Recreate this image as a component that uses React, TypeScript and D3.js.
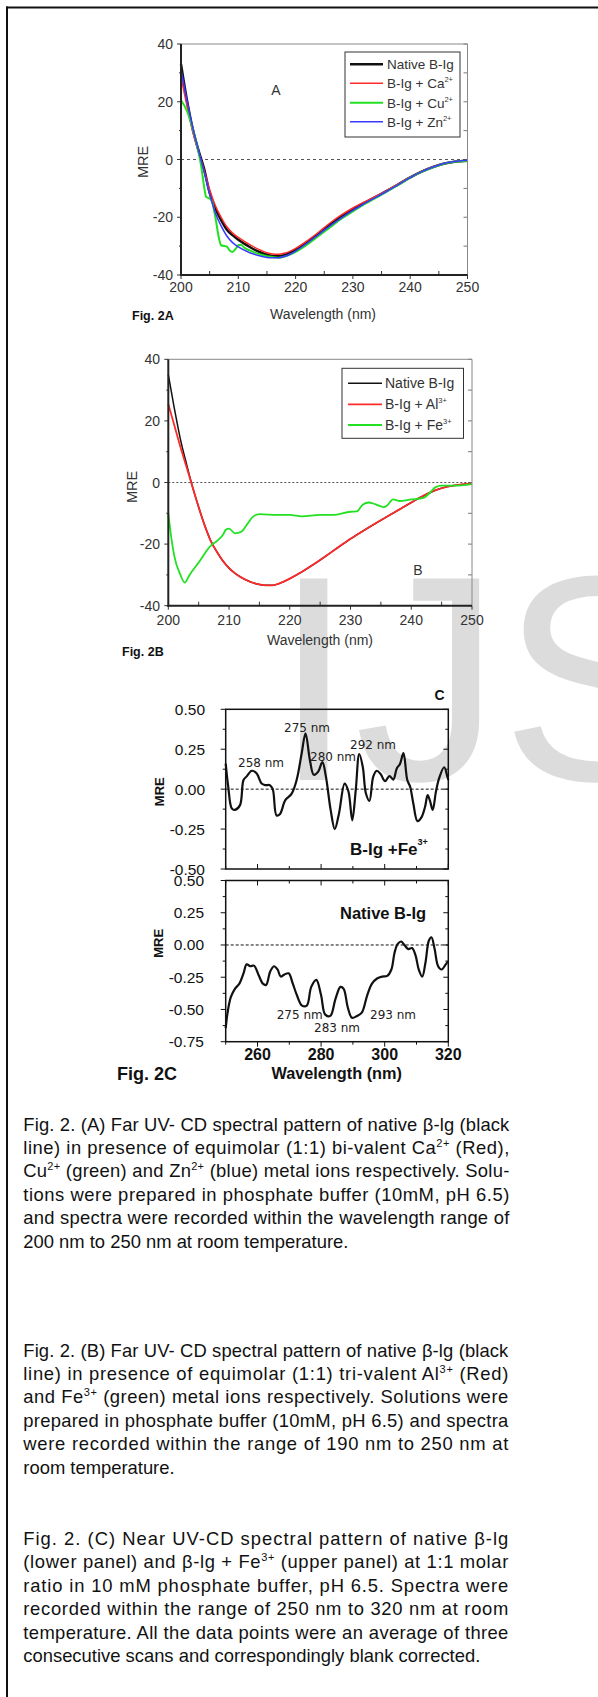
import React from "react";
import * as d3 from "d3";

const W = 598;
const H = 1697;

// ---- Fig 2A : far UV CD, divalent ions  [wavelength, MRE]
const nativeA = [[200,33],[201,21],[202,11],[203,3.5],[204,-3],[205,-11.5],[206,-17],[207,-21],[208,-24.3],[209,-26.2],[210,-27.8],[212,-30.3],[214,-32.3],[215,-33],[216,-33.4],[217,-33.5],[218,-33.1],[219,-32.3],[220,-31.2],[222,-28.7],[224,-25.8],[226,-22.6],[228,-19.7],[230,-17.2],[232,-15],[234,-12.9],[236,-10.8],[238,-8.5],[240,-6.2],[242,-4.2],[244,-2.6],[246,-1.4],[248,-0.7],[250,-0.4]];
const caA = [[200,28.5],[201,19],[202,10],[203,3],[204,-3.5],[205,-10.5],[206,-16],[207,-20],[208,-23.3],[209,-25.5],[210,-27],[212,-29.5],[214,-31.5],[215,-32.3],[216,-32.7],[217,-32.8],[218,-32.5],[219,-31.8],[220,-30.8],[222,-28.2],[224,-25.2],[226,-22],[228,-19.2],[230,-16.8],[232,-14.7],[234,-12.7],[236,-10.6],[238,-8.4],[240,-6.1],[242,-4.1],[244,-2.5],[246,-1.3],[248,-0.6],[250,-0.3]];
const cuA = [[200,20.5],[201,17],[202,11],[203,3],[203.5,-2],[204,-9],[204.4,-13],[205,-13.5],[205.4,-14.5],[206,-20],[206.6,-27],[207,-29.7],[208,-30.2],[208.5,-31.5],[209,-32],[209.5,-31],[210,-29.7],[210.5,-29.5],[211,-30.5],[212,-31.5],[214,-33],[216,-33.8],[217,-34],[218,-33.7],[220,-32],[222,-29.5],[224,-26.5],[226,-23.5],[228,-20.5],[230,-18],[232,-15.5],[234,-13.3],[236,-11],[238,-8.7],[240,-6.3],[242,-4.3],[244,-2.7],[246,-1.4],[248,-0.7],[250,-0.4]];
const znA = [[200,31],[201,21],[202,11.5],[203,3.5],[204,-4],[205,-12],[206,-18.5],[207,-23],[208,-26.5],[209,-28.8],[210,-30.3],[212,-32.3],[214,-33.5],[215,-33.9],[216,-34],[217,-34],[218,-33.6],[219,-32.8],[220,-31.7],[222,-29],[224,-26],[226,-23],[228,-20.2],[230,-17.6],[232,-15.3],[234,-13.1],[236,-10.9],[238,-8.6],[240,-6.3],[242,-4.2],[244,-2.6],[246,-1.3],[248,-0.6],[250,-0.3]];
const legendA = ["Native B-Ig", "B-Ig + Ca^{2+}", "B-Ig + Cu^{2+}", "B-Ig + Zn^{2+}"];

// ---- Fig 2B : far UV CD, trivalent ions
const nativeB = [[200,35],[201,24],[202,14],[203,6],[204,-1.5],[205,-8],[206,-14],[207,-19],[208,-22.5],[209,-25.5],[210,-27.8],[211,-29.5],[212,-30.8],[213,-31.8],[214,-32.6],[215,-33.1],[216,-33.4],[217,-33.4],[218,-33],[219,-32.2],[220,-31.2],[222,-29],[224,-26.5],[226,-23.8],[228,-21],[230,-18.3],[232,-15.8],[234,-13.4],[236,-11.1],[238,-8.8],[240,-6.5],[242,-4.3],[244,-2.5],[246,-1.3],[248,-0.7],[250,-0.4]];
const alB = [[200,25.5],[201,18.5],[202,11.5],[203,5],[204,-1.5],[205,-8],[206,-14],[207,-19],[208,-22.5],[209,-25.5],[210,-27.8],[211,-29.5],[212,-30.8],[213,-31.8],[214,-32.6],[215,-33.1],[216,-33.4],[217,-33.4],[218,-33],[219,-32.2],[220,-31.2],[222,-29],[224,-26.5],[226,-23.8],[228,-21],[230,-18.3],[232,-15.8],[234,-13.4],[236,-11.1],[238,-8.8],[240,-6.5],[242,-4.3],[244,-2.5],[246,-1.3],[248,-0.7],[250,-0.4]];
const feB = [[200,-10],[200.5,-18],[201,-24],[202,-30],[202.7,-32.5],[203.5,-30],[205,-26],[207,-20.5],[208,-19],[209,-17],[209.5,-15.3],[210,-15],[211,-16.5],[212,-16],[213,-13.5],[214,-11],[215,-10.3],[218,-10.5],[220,-10.5],[222,-11],[225,-10.5],[227,-10.5],[230,-9.5],[231,-9.4],[232,-7.2],[233,-6.5],[234,-7],[235.5,-8],[236,-7.5],[237,-5.5],[238,-6],[240,-5.5],[242,-5],[243,-3.5],[244,-1.5],[245,-1],[247,-1],[250,-0.5]];
const legendB = ["Native B-Ig", "B-Ig + Al^{3+}", "B-Ig + Fe^{3+}"];

// ---- Fig 2C : near UV CD
const feC = [[250,0.16],[250.8,0.015],[251.9,-0.12],[252.9,-0.13],[254.5,-0.1],[255.6,0.057],[256.6,0.08],[258.2,0.115],[259.7,0.1],[261.3,0.035],[262.4,0.025],[263.9,0.025],[264.8,0],[266,-0.165],[267.1,-0.155],[268.7,-0.07],[270.7,-0.03],[272.3,0.057],[273.9,0.225],[275.1,0.35],[276.5,0.18],[277.7,0.09],[279.1,0.11],[280.4,0.17],[281.5,0.08],[283,-0.13],[284.3,-0.25],[285.6,-0.155],[287.4,0.035],[288.6,-0.015],[289.8,-0.195],[290.9,-0.005],[292,0.22],[293.1,0.14],[294.1,-0.027],[295.2,-0.073],[296.4,0.078],[297.5,0.115],[298.7,0.095],[300.1,0.05],[301.5,0.082],[302.7,0.06],[303.8,0.13],[304.8,0.158],[305.9,0.225],[307.1,0.057],[308,0.015],[309,-0.09],[310.3,-0.2],[311.6,-0.175],[312.7,-0.11],[313.5,-0.038],[314.2,-0.07],[315.1,-0.13],[316.1,-0.017],[317.1,0.067],[318.7,0.137],[319.7,0.078],[320,0.057]];
const nativeC = [[250,-0.645],[250.5,-0.54],[251.6,-0.405],[252.9,-0.34],[254.3,-0.3],[255.6,-0.22],[256.6,-0.15],[257.7,-0.165],[258.9,-0.16],[260.3,-0.23],[261.7,-0.3],[262.7,-0.31],[264,-0.205],[265.2,-0.165],[266.3,-0.19],[267.3,-0.245],[268.4,-0.23],[269.8,-0.22],[271.1,-0.3],[272.4,-0.39],[274,-0.47],[275.5,-0.47],[276.9,-0.325],[278.5,-0.27],[280,-0.39],[281.3,-0.54],[282.9,-0.55],[284.5,-0.42],[286.1,-0.325],[287.1,-0.34],[288.4,-0.485],[289.7,-0.565],[291.3,-0.55],[292.8,-0.525],[294.5,-0.39],[296,-0.3],[297.6,-0.26],[299.2,-0.245],[300.8,-0.24],[302.1,-0.19],[303.1,-0.06],[304.1,0.008],[305.2,0.027],[306.2,0],[307.4,-0.032],[308.6,-0.024],[309.7,-0.08],[310.7,-0.19],[311.8,-0.245],[312.8,-0.14],[313.9,0.035],[314.7,0.06],[315.7,-0.032],[316.8,-0.165],[317.9,-0.19],[319.2,-0.15],[320,-0.125]];
const ticksCx = [260, 280, 300, 320];
const ticksCyUpper = [0.5, 0.25, 0, -0.25, -0.5];
const ticksCyLower = [0.5, 0.25, 0, -0.25, -0.5, -0.75];

// ---- captions
const captionA = [
  "Fig. 2. (A) Far UV- CD spectral pattern of native β-lg (black",
  "line) in presence of equimolar (1:1) bi-valent Ca^{2+} (Red),",
  "Cu^{2+} (green) and Zn^{2+} (blue) metal ions respectively. Solu-",
  "tions were prepared in phosphate buffer (10mM, pH 6.5)",
  "and spectra were recorded within the wavelength range of",
  "200 nm to 250 nm at room temperature.",
];
const captionB = [
  "Fig. 2. (B) Far UV- CD spectral pattern of native β-lg (black",
  "line) in presence of equimolar (1:1) tri-valent Al^{3+} (Red)",
  "and Fe^{3+} (green) metal ions respectively. Solutions were",
  "prepared in phosphate buffer (10mM, pH 6.5) and spectra",
  "were recorded within the range of 190 nm to 250 nm at",
  "room temperature.",
];
const captionC = [
  "Fig. 2. (C) Near UV-CD spectral pattern of native β-lg",
  "(lower panel) and β-lg + Fe^{3+} (upper panel) at 1:1 molar",
  "ratio in 10 mM phosphate buffer, pH 6.5. Spectra were",
  "recorded within the range of 250 nm to 320 nm at room",
  "temperature. All the data points were an average of three",
  "consecutive scans and correspondingly blank corrected.",
];

const SANS = "'Liberation Sans', Arial, Helvetica, sans-serif";

// text with ^{..} superscripts
const rich = (str, supSize, rise) => {
  const parts = str.split(/\^\{([^}]*)\}/);
  return parts.map((p, i) => {
    if (i % 2 === 1) return <tspan key={i} fontSize={supSize} dy={-rise}>{p}</tspan>;
    if (i > 0) return <tspan key={i} dy={rise}>{p}</tspan>;
    return <tspan key={i}>{p}</tspan>;
  });
};

const FarUV = ({ cfg }) => {
  const x = d3.scaleLinear().domain([200, 250]).range([cfg.left, cfg.right]);
  const y = d3.scaleLinear().domain([-40, 40]).range([cfg.bottom, cfg.top]);
  const line = d3.line().curve(d3.curveMonotoneX).x(d => x(d[0])).y(d => y(d[1]));
  return (
    <g fontFamily={SANS}>
      {/* ticks */}
      {d3.range(-40, 41, 10).map(v => (
        <g key={"l" + v}>
          <line x1={cfg.left - (v % 20 === 0 ? 4 : 2)} x2={cfg.left} y1={y(v)} y2={y(v)} stroke="#333" strokeWidth={1} />
          <line x1={cfg.right - 4} x2={cfg.right} y1={y(v)} y2={y(v)} stroke="#777" strokeWidth={1} />
        </g>
      ))}
      {d3.range(200, 251, 5).map(v => (
        v % 10 === 0
          ? <line key={"b" + v} x1={x(v)} x2={x(v)} y1={cfg.bottom} y2={cfg.bottom + 4} stroke="#333" />
          : <line key={"b" + v} x1={x(v)} x2={x(v)} y1={cfg.bottom} y2={cfg.bottom - 4} stroke="#333" />
      ))}
      {/* zero line */}
      <line x1={cfg.left} x2={cfg.right} y1={y(0)} y2={y(0)} stroke="#555" strokeWidth={1} strokeDasharray={cfg.dash} />
      {/* curves */}
      {cfg.series.map((s, i) => (
        <path key={i} d={line(s.data)} fill="none" stroke={s.color} strokeWidth={s.width} />
      ))}
      {/* frame */}
      <line x1={cfg.left} x2={cfg.right} y1={cfg.top} y2={cfg.top} stroke="#888" strokeWidth={1} />
      <line x1={cfg.right} x2={cfg.right} y1={cfg.top} y2={cfg.bottom} stroke="#888" strokeWidth={1} />
      <line x1={cfg.left} x2={cfg.left} y1={cfg.top} y2={cfg.bottom + 1} stroke="#222" strokeWidth={2} />
      <line x1={cfg.left - 1} x2={cfg.right} y1={cfg.bottom} y2={cfg.bottom} stroke="#222" strokeWidth={2} />
      {/* tick labels */}
      {[40, 20, 0, -20, -40].map(v => (
        <text key={"yl" + v} x={cfg.yLabelX} y={y(v) + 5} textAnchor="end" fontSize={14} fill="#333">{v}</text>
      ))}
      {[200, 210, 220, 230, 240, 250].map(v => (
        <text key={"xl" + v} x={x(v)} y={cfg.xLabelY} textAnchor="middle" fontSize={14} fill="#333">{v}</text>
      ))}
      <text x={cfg.titleX} y={cfg.titleY} textAnchor="middle" fontSize={14} fill="#333">Wavelength (nm)</text>
      <text transform={`translate(${cfg.mreX},${cfg.mreY}) rotate(-90)`} textAnchor="middle" dy="0.36em" fontSize={14.5} fill="#333">MRE</text>
      <text x={cfg.figX} y={cfg.figY} fontSize={12.5} fontWeight="bold" fill="#111">{cfg.fig}</text>
      <text x={cfg.letterX} y={cfg.letterY} textAnchor="middle" fontSize={14} fill="#333">{cfg.letter}</text>
      {/* legend */}
      <rect x={cfg.lg.x} y={cfg.lg.y} width={cfg.lg.w} height={cfg.lg.h} fill="none" stroke="#333" strokeWidth={1} />
      {cfg.legend.map((t, i) => (
        <g key={"lg" + i}>
          <line x1={cfg.lg.lx1} x2={cfg.lg.lx2} y1={cfg.lg.rows[i]} y2={cfg.lg.rows[i]} stroke={cfg.series[i].color} strokeWidth={cfg.series[i].width} />
          <text x={cfg.lg.tx} y={cfg.lg.rows[i] + 5} fontSize={cfg.lg.fs} fill="#333">{rich(t, 7.5, 6)}</text>
        </g>
      ))}
    </g>
  );
};

const cfgA = {
  left: 181, right: 467.5, top: 44, bottom: 275,
  dash: "3,3",
  yLabelX: 173, xLabelY: 291.5, titleX: 323, titleY: 318.5,
  mreX: 143, mreY: 162, figX: 132, figY: 319.5, fig: "Fig. 2A",
  letter: "A", letterX: 276, letterY: 95,
  series: [
    { data: nativeA, color: "#111", width: 2.5 },
    { data: caA, color: "#ff2a2a", width: 1.5 },
    { data: cuA, color: "#22e022", width: 2 },
    { data: znA, color: "#3a3aff", width: 1.5 },
  ],
  legend: legendA,
  lg: { x: 345, y: 52, w: 115, h: 85, rows: [64.3, 83.3, 102.7, 121.7], lx1: 350, lx2: 383, tx: 387, fs: 13.5 },
};

const cfgB = {
  left: 168.3, right: 472, top: 359.3, bottom: 605.7,
  dash: "2,2",
  yLabelX: 160, xLabelY: 625, titleX: 320, titleY: 645,
  mreX: 132, mreY: 487, figX: 122, figY: 656, fig: "Fig. 2B",
  letter: "B", letterX: 418, letterY: 575,
  series: [
    { data: nativeB, color: "#111", width: 1.5 },
    { data: alB, color: "#ff2a2a", width: 1.8 },
    { data: feB, color: "#22e022", width: 1.8 },
  ],
  legend: legendB,
  lg: { x: 342, y: 368.3, w: 121.5, h: 70, rows: [383.3, 404.3, 425], lx1: 348, lx2: 382, tx: 385, fs: 14 },
};

const NearUV = () => {
  const x = d3.scaleLinear().domain([250, 320]).range([225.7, 448.3]);
  const yU = d3.scaleLinear().domain([-0.5, 0.5]).range([869, 709.3]);
  const yL = d3.scaleLinear().domain([-0.75, 0.5]).range([1041.7, 880.5]);
  const mk = (ys) => d3.line().curve(d3.curveCatmullRom.alpha(0.5)).x(d => x(d[0])).y(d => ys(d[1]));
  const L = 225.7, R = 448.3;
  const sideTicks = (ys, lo, key) => d3.range(lo, 0.51, 0.125).map(v => {
    const len = Math.abs((v * 4) % 1) < 1e-6 ? 5 : 3;
    return (
      <g key={key + v}>
        <line x1={L - len} x2={L} y1={ys(v)} y2={ys(v)} stroke="#111" />
        <line x1={R - len} x2={R} y1={ys(v)} y2={ys(v)} stroke="#111" />
      </g>
    );
  });
  const xt = d3.range(250, 321, 10);
  const ann = { fontFamily: "'DejaVu Sans', Verdana, sans-serif", fontSize: 12, fill: "#222" };
  return (
    <g fontFamily={SANS}>
      {sideTicks(yU, -0.5, "u")}
      {sideTicks(yL, -0.75, "d")}
      {xt.map(v => (
        <g key={"xt" + v}>
          <line x1={x(v)} x2={x(v)} y1={869} y2={869 - (v % 20 === 0 ? 5 : 3)} stroke="#111" />
          <line x1={x(v)} x2={x(v)} y1={880.5} y2={880.5 + (v % 20 === 0 ? 5 : 3)} stroke="#111" />
          <line x1={x(v)} x2={x(v)} y1={1041.7} y2={1041.7 + (v % 20 === 0 ? 5 : 3)} stroke="#111" />
        </g>
      ))}
      <line x1={L} x2={R} y1={yU(0)} y2={yU(0)} stroke="#111" strokeDasharray="3,2" strokeWidth={1} />
      <line x1={L} x2={R} y1={yL(0)} y2={yL(0)} stroke="#111" strokeDasharray="3,2" strokeWidth={1} />
      <path d={mk(yU)(feC)} fill="none" stroke="#111" strokeWidth={2.2} />
      <path d={mk(yL)(nativeC)} fill="none" stroke="#111" strokeWidth={2.2} />
      <rect x={L} y={709.3} width={R - L} height={869 - 709.3} fill="none" stroke="#111" strokeWidth={1.5} />
      <rect x={L} y={880.5} width={R - L} height={1041.7 - 880.5} fill="none" stroke="#111" strokeWidth={1.5} />
      {ticksCyUpper.map(v => (
        <text key={"yu" + v} x={205} y={yU(v) + 5.5} textAnchor="end" fontSize={15.5} fill="#111">{v.toFixed(2)}</text>
      ))}
      {ticksCyLower.map(v => (
        <text key={"yd" + v} x={204} y={yL(v) + 5.5} textAnchor="end" fontSize={15.5} fill="#111">{v.toFixed(2)}</text>
      ))}
      {ticksCx.map(v => (
        <text key={"xl" + v} x={x(v)} y={1060} textAnchor="middle" fontSize={16} fontWeight="bold" fill="#111">{v}</text>
      ))}
      <text x={336.7} y={1079} textAnchor="middle" fontSize={16.3} fontWeight="bold" fill="#111">Wavelength (nm)</text>
      <text x={117} y={1080} fontSize={18} fontWeight="bold" fill="#111">Fig. 2C</text>
      <text transform="translate(159,791.7) rotate(-90)" textAnchor="middle" dy="0.36em" fontSize={13} fontWeight="bold" fill="#111">MRE</text>
      <text transform="translate(158.3,943.3) rotate(-90)" textAnchor="middle" dy="0.36em" fontSize={13} fontWeight="bold" fill="#111">MRE</text>
      <text x={439.5} y={700} textAnchor="middle" fontSize={14} fontWeight="bold" fill="#111">C</text>
      <text x={350} y={855} fontSize={17} fontWeight="bold" fill="#111">{rich("B-Ig +Fe^{3+}", 9, 10)}</text>
      <text x={340} y={919} fontSize={16.5} fontWeight="bold" fill="#111">Native B-Ig</text>
      <text x={238} y={767} {...ann}>258 nm</text>
      <text x={284} y={732} {...ann}>275 nm</text>
      <text x={310} y={761} {...ann}>280 nm</text>
      <text x={350} y={748.5} {...ann}>292 nm</text>
      <text x={276.7} y={1018.5} {...ann}>275 nm</text>
      <text x={314} y={1032} {...ann}>283 nm</text>
      <text x={370} y={1018.5} {...ann}>293 nm</text>
    </g>
  );
};

const Caption = ({ lines, top, right }) => (
  <g fontFamily={SANS} fontSize={18.4} fill="#111">
    {lines.map((t, i) => (
      <text key={i} x={23.3} y={top + i * 23.4}
        {...(i < lines.length - 1 ? { textLength: right - 23.3, lengthAdjust: "spacing" } : {})}>
        {rich(t, 11, 7)}
      </text>
    ))}
  </g>
);

export default function App() {
  return (
    <svg width={W} height={H} style={{ position: "absolute", left: 0, top: 0, background: "#fff" }}>
      <rect width={W} height={H} fill="#fff" />
      {/* watermark */}
      <text x={273} y={780} fontFamily={SANS} fontSize={293} fill="#dcdcdc">IJS</text>
      {/* page border */}
      <line x1={6} x2={W} y1={7.5} y2={7.5} stroke="#111" strokeWidth={2} />
      <line x1={7} x2={7} y1={6.5} y2={H} stroke="#111" strokeWidth={2} />
      <FarUV cfg={cfgA} />
      <FarUV cfg={cfgB} />
      <NearUV />
      <Caption lines={captionA} top={1130.5} right={509.3} />
      <Caption lines={captionB} top={1356.5} right={508.3} />
      <Caption lines={captionC} top={1545} right={508.3} />
    </svg>
  );
}
